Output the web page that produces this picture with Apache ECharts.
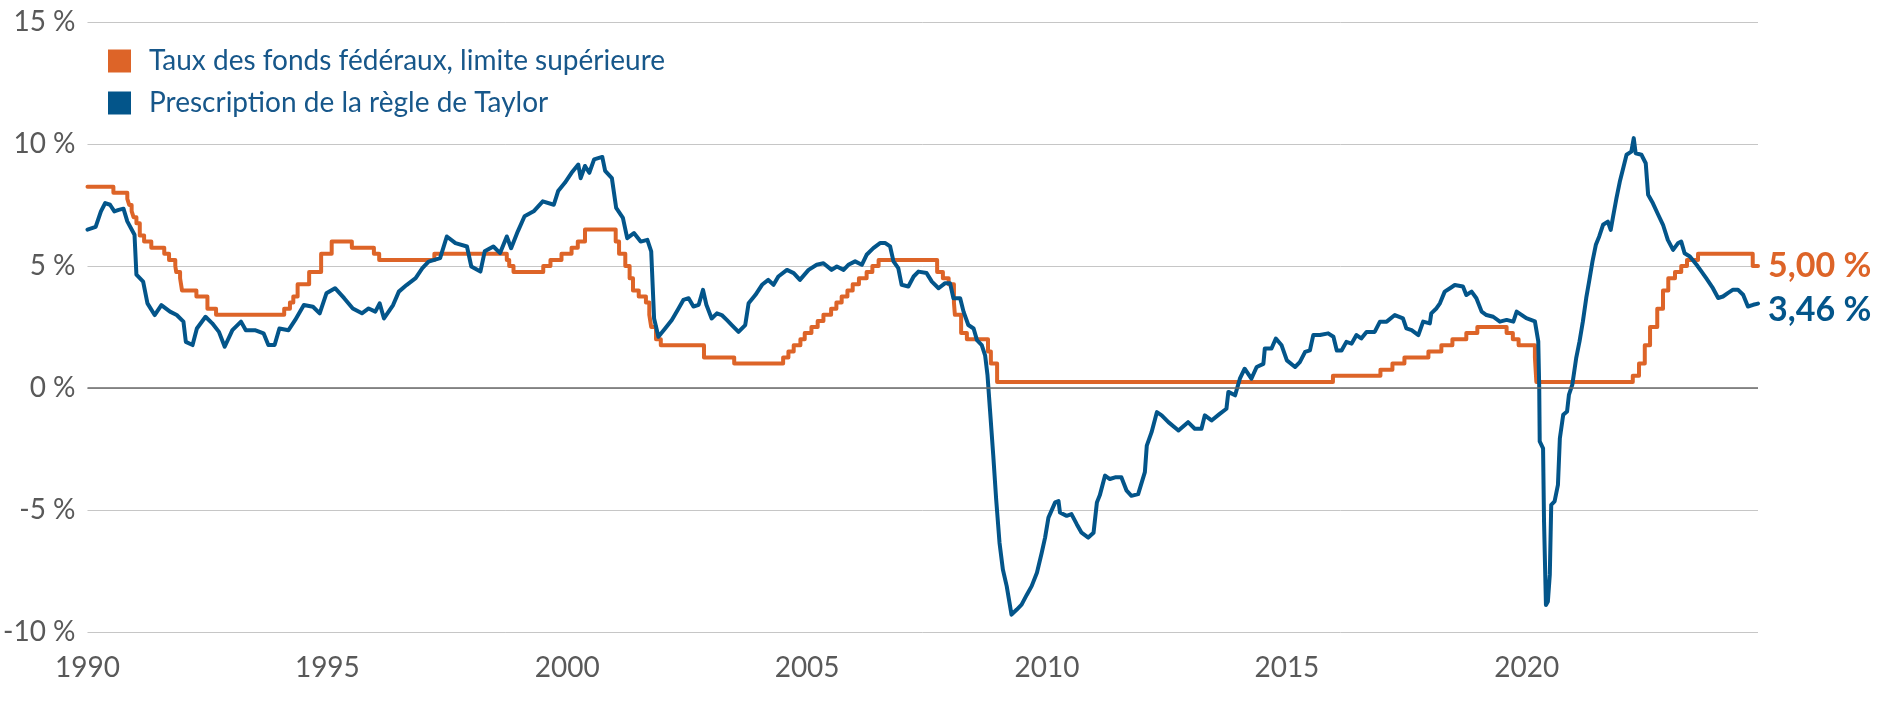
<!DOCTYPE html>
<html>
<head>
<meta charset="utf-8">
<script src="https://cdn.jsdelivr.net/npm/echarts@6/dist/echarts.min.js"></script>
<style>
html,body{margin:0;padding:0;background:#fff;}
#chart{width:1881px;height:701px;}
</style>
</head>
<body>
<div id="chart"></div>
<script>
// ---- Data ----
const seriesNames = ['Taux des fonds fédéraux, limite supérieure', 'Prescription de la règle de Taylor'];
const endLabels = ['5,00 %', '3,46 %'];
const xTicks = [1990, 1995, 2000, 2005, 2010, 2015, 2020];

// Fed funds upper limit: change dates (decimal years) and new levels (%)
const fedDates = [
1990.00,1990.54,1990.83,1990.87,1990.92,1990.96,1991.02,1991.09,1991.18,1991.33,
1991.60,1991.70,1991.83,1991.85,1991.93,1991.97,1992.27,1992.50,1992.68,1994.10,
1994.22,1994.29,1994.38,1994.62,1994.87,1995.09,1995.51,1995.97,1996.08,1997.23,
1998.74,1998.79,1998.88,1999.50,1999.65,1999.88,2000.09,2000.22,2000.37,2001.01,
2001.08,2001.21,2001.30,2001.37,2001.49,2001.64,2001.71,2001.75,2001.85,2001.95,
2002.85,2003.48,2004.50,2004.61,2004.72,2004.86,2004.95,2005.09,2005.22,2005.34,
2005.50,2005.61,2005.72,2005.84,2005.95,2006.08,2006.24,2006.36,2006.49,2007.71,
2007.83,2007.95,2008.06,2008.08,2008.21,2008.33,2008.77,2008.83,2008.96,2015.96,
2016.95,2017.20,2017.45,2017.95,2018.22,2018.45,2018.74,2018.97,2019.58,2019.71,
2019.83,2020.17,2020.20,2022.21,2022.34,2022.46,2022.57,2022.72,2022.84,2022.95,
2023.09,2023.22,2023.34,2023.57,2024.71,2024.82];
const fedValues = [
8.25,8.00,7.75,7.50,7.25,7.00,6.75,6.25,6.00,5.75,
5.50,5.25,5.00,4.75,4.50,4.00,3.75,3.25,3.00,3.25,
3.50,3.75,4.25,4.75,5.50,6.00,5.75,5.50,5.25,5.50,
5.25,5.00,4.75,5.00,5.25,5.50,5.75,6.00,6.50,6.00,
5.50,5.00,4.50,4.00,3.75,3.50,3.00,2.50,2.00,1.75,
1.25,1.00,1.25,1.50,1.75,2.00,2.25,2.50,2.75,3.00,
3.25,3.50,3.75,4.00,4.25,4.50,4.75,5.00,5.25,4.75,
4.50,4.25,3.50,3.00,2.25,2.00,1.50,1.00,0.25,0.50,
0.75,1.00,1.25,1.50,1.75,2.00,2.25,2.50,2.25,2.00,
1.75,1.25,0.25,0.50,1.00,1.75,2.50,3.25,4.00,4.50,
4.75,5.00,5.25,5.50,5.00,5.00];

// Taylor rule prescription (%)
const taylorDates = [1990.00,1990.17,1990.28,1990.37,1990.47,1990.56,1990.65,1990.75,1990.83,1990.98,1991.02,1991.16,1991.25,1991.40,1991.54,1991.72,1991.86,
1992.00,1992.05,1992.19,1992.28,1992.46,1992.60,1992.74,1992.86,1993.02,1993.20,1993.30,1993.49,1993.67,1993.77,1993.90,
1994.00,1994.19,1994.33,1994.51,1994.70,1994.84,1994.98,1995.16,1995.35,1995.53,1995.72,1995.86,1996.00,1996.09,1996.18,1996.37,1996.49,1996.65,1996.84,1996.98,
1997.11,1997.35,1997.49,1997.67,1997.91,1998.00,1998.19,1998.28,1998.46,1998.60,1998.74,1998.83,1998.97,1999.11,1999.30,1999.49,1999.72,1999.81,1999.95,
2000.09,2000.23,2000.28,2000.37,2000.46,2000.56,2000.73,2000.79,2000.93,2001.02,2001.16,2001.25,2001.39,2001.53,2001.67,2001.75,2001.81,2001.90,
2002.04,2002.18,2002.32,2002.42,2002.53,2002.63,2002.74,2002.83,2002.90,2003.01,2003.12,2003.22,2003.33,2003.43,2003.57,2003.71,2003.78,2003.92,
2004.06,2004.19,2004.30,2004.40,2004.58,2004.72,2004.85,2005.03,2005.20,2005.34,2005.51,2005.62,2005.76,2005.86,2006.00,2006.14,2006.24,2006.38,2006.52,2006.63,2006.73,2006.80,2006.90,2006.97,
2007.11,2007.22,2007.32,2007.49,2007.60,2007.74,2007.87,2007.98,2008.05,2008.19,2008.26,2008.36,2008.47,2008.54,2008.64,2008.71,2008.76,2008.81,2008.88,2008.94,
2009.01,2009.08,2009.16,2009.26,2009.37,2009.47,2009.58,2009.68,2009.79,2009.89,2009.96,2010.03,2010.17,2010.24,2010.27,2010.41,2010.51,2010.62,2010.72,2010.86,2010.97,
2011.04,2011.10,2011.21,2011.31,2011.42,2011.55,2011.66,2011.76,2011.90,2012.04,2012.08,2012.18,2012.29,2012.39,2012.53,2012.74,2012.94,
2013.08,2013.22,2013.29,2013.43,2013.60,2013.74,2013.78,2013.92,2014.02,2014.12,2014.26,2014.37,2014.51,2014.54,2014.68,2014.77,2014.89,
2015.00,2015.17,2015.27,2015.38,2015.48,2015.55,2015.69,2015.86,2015.97,2016.04,2016.14,2016.24,2016.35,2016.45,2016.55,2016.66,2016.83,2016.94,
2017.08,2017.25,2017.42,2017.49,2017.60,2017.74,2017.84,2017.98,2018.01,2018.12,2018.19,2018.29,2018.40,2018.50,2018.67,2018.74,2018.85,2018.95,
2019.06,2019.16,2019.30,2019.44,2019.58,2019.72,2019.79,2019.89,2019.99,2020.17,2020.24,2020.26,2020.27,2020.34,2020.36,2020.40,2020.44,2020.48,2020.51,2020.58,2020.65,2020.69,2020.76,2020.84,2020.88,2020.95,
2021.03,2021.10,2021.17,2021.24,2021.30,2021.37,2021.44,2021.51,2021.59,2021.69,2021.75,2021.80,2021.87,2021.94,2022.01,2022.08,2022.18,2022.23,2022.27,2022.39,2022.48,2022.53,2022.63,2022.74,2022.84,2022.94,
2023.05,2023.15,2023.22,2023.29,2023.40,2023.54,2023.64,2023.74,2023.88,2023.99,2024.09,2024.19,2024.30,2024.40,2024.51,2024.61,2024.72,2024.82];
const taylorValues = [6.49,6.60,7.24,7.58,7.51,7.24,7.30,7.35,6.83,6.28,4.65,4.36,3.47,2.99,3.40,3.13,2.99,
2.72,1.89,1.76,2.44,2.92,2.65,2.30,1.69,2.37,2.72,2.37,2.37,2.24,1.76,1.76,
2.44,2.37,2.79,3.40,3.33,3.06,3.88,4.09,3.68,3.26,3.06,3.26,3.13,3.47,2.85,3.40,3.95,4.22,4.50,4.91,
5.18,5.32,6.21,5.94,5.80,4.98,4.77,5.60,5.80,5.53,6.21,5.73,6.42,7.04,7.24,7.65,7.51,8.07,8.41,
8.82,9.16,8.60,9.10,8.82,9.37,9.47,8.90,8.60,7.38,6.97,6.14,6.35,6.00,6.07,5.60,2.85,2.10,
2.44,2.79,3.26,3.61,3.68,3.34,3.41,4.02,3.41,2.85,3.06,2.99,2.78,2.58,2.30,2.58,3.47,3.81,
4.23,4.43,4.23,4.57,4.84,4.71,4.43,4.84,5.05,5.11,4.84,4.98,4.84,5.05,5.19,5.05,5.46,5.73,5.94,5.94,5.80,5.19,4.91,4.23,
4.16,4.57,4.77,4.71,4.36,4.09,4.29,4.29,3.68,3.68,3.13,2.58,2.44,1.96,1.76,1.34,0.52,-0.85,-2.77,-4.55,
-6.34,-7.44,-8.12,-9.29,-9.08,-8.88,-8.47,-8.12,-7.57,-6.75,-6.13,-5.31,-4.69,-4.63,-5.10,-5.24,-5.17,-5.58,-5.93,-6.13,-5.93,
-4.69,-4.40,-3.59,-3.73,-3.66,-3.66,-4.21,-4.42,-4.35,-3.45,-2.36,-1.81,-0.99,-1.12,-1.40,-1.74,-1.40,
-1.67,-1.67,-1.12,-1.33,-1.06,-0.85,-0.16,-0.30,0.38,0.79,0.38,0.86,0.99,1.62,1.62,2.03,1.75,
1.13,0.86,1.06,1.48,1.54,2.17,2.17,2.24,2.10,1.54,1.54,1.89,1.82,2.17,2.03,2.30,2.30,2.72,
2.72,2.99,2.85,2.44,2.37,2.17,2.72,2.65,3.06,3.27,3.47,3.95,4.09,4.22,4.16,3.81,3.95,3.68,
3.13,2.99,2.92,2.72,2.79,2.72,3.13,3.00,2.86,2.73,1.91,0.00,-2.19,-2.47,-5.47,-8.89,-8.75,-7.66,-4.79,-4.65,-3.97,-2.06,-1.10,-0.96,-0.27,0.14,
1.22,1.91,2.73,3.69,4.37,5.19,5.87,6.21,6.69,6.82,6.48,7.03,7.78,8.46,9.01,9.56,9.69,10.24,9.62,9.56,9.21,7.92,7.57,7.10,6.69,6.07,
5.66,5.93,6.00,5.52,5.39,5.05,4.78,4.50,4.09,3.69,3.75,3.89,4.03,4.03,3.82,3.34,3.41,3.46];

// ---- Build ----
const ORANGE = '#DD6428';
const BLUE = '#03558A';
const fedData = fedDates.map((d, i) => [d, fedValues[i]]);
const taylorData = taylorDates.map((d, i) => [d, taylorValues[i]]);

const chart = echarts.init(document.getElementById('chart'));
chart.setOption({
  animation: false,
  backgroundColor: '#ffffff',
  grid: { left: 87, right: 123, top: 22, bottom: 69, containLabel: false },
  legend: {
    show: true,
    left: 103, top: 42,
    orient: 'vertical',
    itemWidth: 23, itemHeight: 23, itemGap: 14,
    icon: 'rect',
    selectedMode: false,
    textStyle: { fontFamily: 'Lato', fontSize: 28, color: '#17578A', padding: [0, 0, 0, 13] },
    data: seriesNames
  },
  xAxis: {
    type: 'value',
    min: 1990,
    max: 2024.82,
    interval: 5,
    axisLine: { show: false },
    axisTick: { show: false },
    splitLine: { show: false },
    axisLabel: {
      fontFamily: 'Lato', fontSize: 28, color: '#595959', margin: 22,
      showMaxLabel: false,
      formatter: v => (xTicks.indexOf(v) >= 0 ? String(v) : '')
    }
  },
  yAxis: {
    type: 'value',
    min: -10, max: 15, interval: 5,
    axisLine: { show: false },
    axisTick: { show: false },
    splitLine: { show: true, lineStyle: { color: '#c6c6c6', width: 1 } },
    axisLabel: { fontFamily: 'Lato', fontSize: 28, color: '#595959', margin: 12, formatter: '{value} %' }
  },
  series: [
    {
      name: seriesNames[0],
      type: 'line',
      step: 'end',
      data: fedData,
      showSymbol: false,
      itemStyle: { color: ORANGE },
      lineStyle: { color: ORANGE, width: 4, cap: 'round', join: 'round' },
      z: 3,
      endLabel: {
        show: true, distance: 10,
        formatter: endLabels[0],
        fontFamily: 'Lato', fontWeight: 'bold', fontSize: 34, color: ORANGE
      },
      markLine: {
        silent: true, symbol: 'none', animation: false,
        label: { show: false },
        lineStyle: { color: '#6a6a6a', type: 'solid', width: 1.5 },
        data: [{ yAxis: 0 }]
      }
    },
    {
      name: seriesNames[1],
      type: 'line',
      data: taylorData,
      showSymbol: false,
      itemStyle: { color: BLUE },
      lineStyle: { color: BLUE, width: 4, cap: 'round', join: 'round' },
      z: 4,
      endLabel: {
        show: true, distance: 10, offset: [0, 6],
        formatter: endLabels[1],
        fontFamily: 'Lato', fontWeight: 'bold', fontSize: 34, color: BLUE
      }
    }
  ]
});
</script>
</body>
</html>
